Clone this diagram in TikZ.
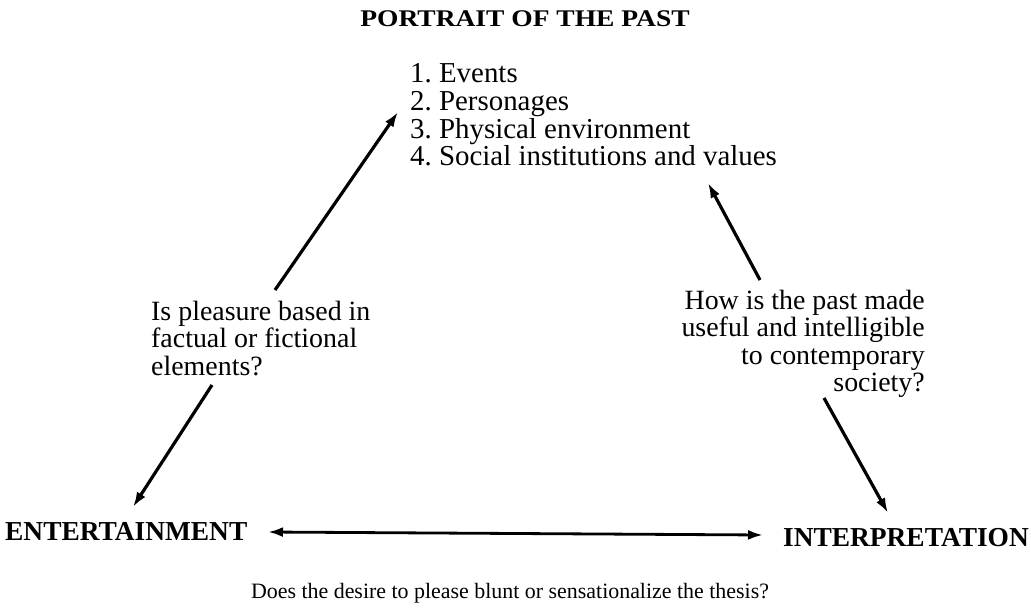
\documentclass[tikz,border=0pt]{standalone}
\usepackage{fontspec}
\setmainfont{Liberation Serif}
\usetikzlibrary{arrows.meta}
\begin{document}
\begin{tikzpicture}[x=1bp,y=-1bp,>={Latex[length=15bp,width=10bp]},line join=bevel,
  heading/.style={font=\fontsize{24}{28}\selectfont\bfseries\addfontfeatures{FakeStretch=1.15},inner sep=0pt},
  corner/.style={font=\fontsize{27.5}{30}\selectfont\bfseries,inner sep=0pt},
  body/.style={font=\fontsize{28}{27.5}\selectfont,inner sep=0pt},
  link/.style={black,line width=3.2bp}]
%%
\useasboundingbox (0,0) rectangle (1031,609);
\node (past) at (525,27) [heading,anchor=base] {PORTRAIT OF THE PAST};
\node (aspects) at (410,63) [body,font=\fontsize{29}{28}\selectfont,anchor=north west,align=left] {1.\ Events\\2.\ Personages\\3.\ Physical environment\\4.\ Social institutions and values};
\node (pleasure) at (151,301) [body,anchor=north west,align=left] {Is pleasure based in\\factual or fictional\\elements?};
\node (useful) at (925,290) [body,anchor=north east,align=right] {How is the past made\\useful and intelligible\\to contemporary\\society?};
\node (enter) at (5,540) [corner,anchor=base west] {ENTERTAINMENT};
\node (interp) at (1029,546) [corner,anchor=base east] {INTERPRETATION};
\node (thesis) at (510,598) [body,font=\fontsize{22}{26}\selectfont,anchor=base] {Does the desire to please blunt or sensationalize the thesis?};
%
\coordinate (a1) at (275,290);
\coordinate (a2) at (398,112);
\coordinate (b1) at (212,385);
\coordinate (b2) at (133,507);
\coordinate (c1) at (760,280);
\coordinate (c2) at (708,183);
\coordinate (d1) at (824,398);
\coordinate (d2) at (888,513);
\coordinate (e1) at (268,532);
\coordinate (e2) at (763,535);
\draw [link,->] (a1) -- (a2);
\draw [link,->] (b1) -- (b2);
\draw [link,->] (c1) -- (c2);
\draw [link,->] (d1) -- (d2);
\draw [link,<->,line width=2.8bp] (e1) -- (e2);
%
\end{tikzpicture}
\end{document}
